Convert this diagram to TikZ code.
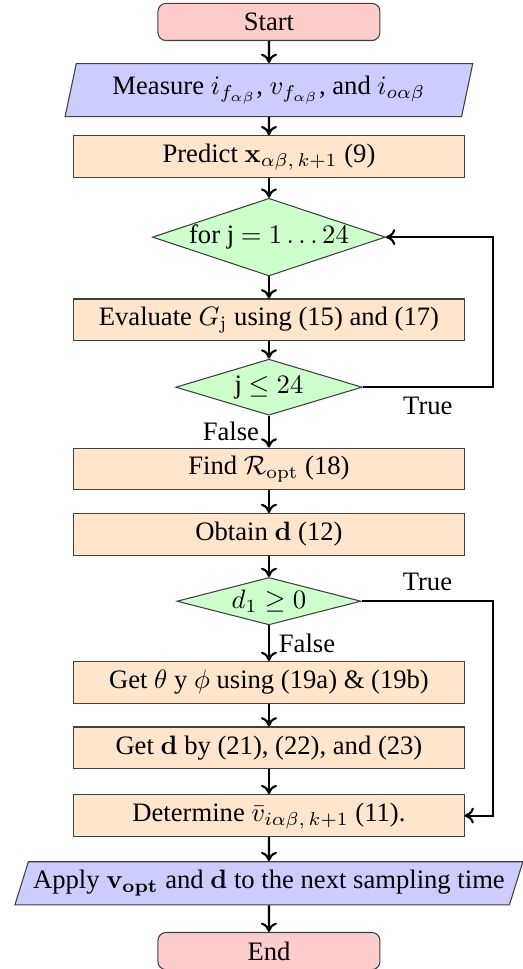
\documentclass[tikz,border=0pt]{standalone}
\usepackage[no-math]{fontspec}
\setmainfont{Liberation Serif}
\usepackage{amsmath}
\usepackage{amssymb}
\usetikzlibrary{
  arrows.meta,
  positioning,
  shapes.geometric
}

\begin{document}
\begin{tikzpicture}[
      terminal/.style={
        rectangle, rounded corners=3pt, inner ysep=0pt,
        minimum width=2.93cm, minimum height=0.49cm,
        draw=black!75, fill=red!20
      },
      iobox/.style={
        trapezium, trapezium stretches=true, inner ysep=0pt,
        draw=black!75, fill=blue!20
      },
      process/.style={
        rectangle, inner ysep=0pt,
        minimum width=5.15cm, minimum height=0.55cm,
        draw=black!75, fill=orange!20
      },
      decision/.style={
        diamond, aspect=3, inner sep=0pt,
        draw=black!75, fill=green!20
      },
      arrow/.style={-{To[length=3.5pt,width=6pt]}, thick, black}
    ]
      \useasboundingbox (-3.55,0.29) rectangle (3.34,-12.50);

      \node[terminal] (start) {Start};
      \node[iobox, trapezium left angle=71, trapezium right angle=109,
            minimum width=5.39cm, minimum height=0.70cm,
            below=0.29cm of start] (measure)
        {Measure $i_{f_{\alpha\beta}}$, $v_{f_{\alpha\beta}}$, and $i_{o\alpha\beta}$};
      \node[process, below=0.24cm of measure] (predict)
        {Predict $\mathbf{x}_{\alpha\beta,\,k+1}$ (9)};
      \node[decision, minimum width=2.98cm, minimum height=0.98cm,
            below=0.26cm of predict] (forj) {for j $= 1\ldots24$};
      \node[process, below=0.29cm of forj] (evalg)
        {Evaluate $G_\mathrm{j}$ using (15) and (17)};
      \node[decision, minimum width=2.46cm, minimum height=0.74cm,
            below=0.23cm of evalg] (jcheck) {j $\leq 24$};
      \node[process, below=0.42cm of jcheck] (findr)
        {Find $\mathcal{R}_\mathrm{opt}$ (18)};
      \node[process, below=0.30cm of findr] (obtd) {Obtain $\mathbf{d}$ (12)};
      \node[decision, minimum width=2.43cm, minimum height=0.61cm,
            below=0.28cm of obtd] (dcheck) {$d_1 \geq 0$};
      \node[process, below=0.47cm of dcheck] (getang)
        {Get $\theta$ y $\phi$ using (19a) \& (19b)};
      \node[process, below=0.30cm of getang] (getd)
        {Get $\mathbf{d}$ by (21), (22), and (23)};
      \node[process, below=0.33cm of getd] (detv)
        {Determine $\bar{v}_{i\alpha\beta,\,k+1}$ (11).};
      \node[iobox, trapezium left angle=63, trapezium right angle=117,
            minimum width=6.71cm, minimum height=0.57cm, inner xsep=0pt,
            below=0.32cm of detv] (apply)
        {Apply $\mathbf{v_{opt}}$ and $\mathbf{d}$ to the next sampling time};
      \node[terminal, below=0.35cm of apply] (stop) {End};

      % straight flow
      \foreach \a/\b in {start/measure, measure/predict, predict/forj,
                         forj/evalg, evalg/jcheck, findr/obtd, obtd/dcheck,
                         getang/getd, getd/detv, detv/apply, apply/stop}
        \draw[arrow] (\a) -- (\b);

      % branches
      \draw[arrow] (jcheck) -- node[left] {False} (findr);
      \draw[arrow] (dcheck) -- node[right] {False} (getang);
      \draw[arrow] (jcheck.east) -- node[below] {True} ++(1.72,0) |- (forj.east);
      \draw[arrow] (dcheck.east) -- node[above] {True} ++(1.74,0) |- (detv.east);
    \end{tikzpicture}
\end{document}
